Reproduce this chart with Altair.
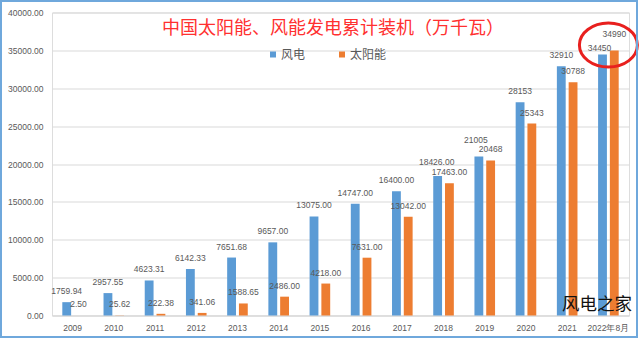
import altair as alt
import pandas as pd

years = ["2009", "2010", "2011", "2012", "2013", "2014", "2015", "2016",
         "2017", "2018", "2019", "2020", "2021", "2022年8月"]
wind = [1759.94, 2957.55, 4623.31, 6142.33, 7651.68, 9657.00, 13075.00, 14747.00,
        16400.00, 18426.00, 21005, 28153, 32910, 34450]
solar = [2.50, 25.62, 222.38, 341.06, 1588.65, 2486.00, 4218.00, 7631.00,
         13042.00, 17463.00, 20468, 25343, 30788, 34990]
wind_labels = ["1759.94", "2957.55", "4623.31", "6142.33", "7651.68", "9657.00", "13075.00",
               "14747.00", "16400.00", "18426.00", "21005", "28153", "32910", "34450"]
solar_labels = ["2.50", "25.62", "222.38", "341.06", "1588.65", "2486.00", "4218.00",
                "7631.00", "13042.00", "17463.00", "20468", "25343", "30788", "34990"]
series = ["风电", "太阳能"]
colors = ["#5B9BD5", "#ED7D31"]
y_ticks = [0, 5000, 10000, 15000, 20000, 25000, 30000, 35000, 40000]
title_text = "中国太阳能、风能发电累计装机（万千瓦）"
watermark = "风电之家"

rows = []
for i, y in enumerate(years):
    rows.append({"year": y, "series": series[0], "value": wind[i], "label": wind_labels[i]})
    rows.append({"year": y, "series": series[1], "value": solar[i], "label": solar_labels[i]})
df = pd.DataFrame(rows)

W, H = 577, 303
CJK = "Noto Sans CJK SC"
NUM = "Liberation Sans"
GRAY = "#595959"

xs = alt.Scale(domain=years, paddingInner=0.5, paddingOuter=0.25)
xo = alt.Scale(domain=series, paddingInner=0.25, paddingOuter=0)
ys = alt.Scale(domain=[0, 40000], nice=False)

x_axis = alt.Axis(labelAngle=0, ticks=False, labelPadding=8, labelFont=NUM,
                  labelFontSize=8.5, labelColor=GRAY, domainColor="#D9D9D9", grid=False)
y_axis = alt.Axis(values=y_ticks, format=".2f", ticks=False, domain=False, labelPadding=9,
                  labelOverlap=False, labelFont=NUM, labelFontSize=8.5, labelColor=GRAY,
                  gridColor="#D9D9D9", gridWidth=1)

base = alt.Chart(df)

bars = base.mark_bar().encode(
    x=alt.X("year:N", scale=xs, sort=years, title=None, axis=x_axis),
    xOffset=alt.XOffset("series:N", scale=xo, sort=series),
    y=alt.Y("value:Q", scale=ys, title=None, axis=y_axis),
    color=alt.Color("series:N", scale=alt.Scale(domain=series, range=colors), sort=series,
                    title=None,
                    legend=alt.Legend(orient="none", legendX=215, legendY=36, direction="horizontal",
                                      symbolType="square", symbolSize=36, symbolStrokeWidth=0,
                                      labelFont=CJK, labelFontSize=12, labelColor=GRAY,
                                      labelOffset=2, columnPadding=30, padding=0)),
)


def label_layer(flt, dy, dx):
    return base.transform_filter(flt).mark_text(
        baseline="middle", align="center", dy=dy, dx=dx, font=NUM, fontSize=8.5, color=GRAY
    ).encode(
        x=alt.X("year:N", scale=xs, sort=years, title=None, axis=x_axis),
        xOffset=alt.XOffset("series:N", scale=xo, sort=series),
        y=alt.Y("value:Q", scale=ys, title=None, axis=y_axis),
        text="label:N",
    )


is_wind = alt.datum.series == series[0]
is_solar = alt.datum.series == series[1]
is_last = alt.datum.year == years[-1]
is_1819_wind = ((alt.datum.year == "2018") | (alt.datum.year == "2019")) & is_wind

labels = label_layer(~is_last & ~is_1819_wind, -11, 0)
lab_2018 = label_layer((alt.datum.year == "2018") & is_wind, -14, -1)
lab_2019 = label_layer((alt.datum.year == "2019") & is_wind, -16, -3)
last_wind = label_layer(is_last & is_wind, -7, -3)
last_solar = label_layer(is_last & is_solar, -16, 0)

ellipse_path = ("M 1 0 C 1 0.42 0.552 0.76 0 0.76 C -0.552 0.76 -1 0.42 -1 0 "
                "C -1 -0.42 -0.552 -0.76 0 -0.76 C 0.552 -0.76 1 -0.42 1 0 Z")
ellipse = alt.Chart(pd.DataFrame({"year": [years[-1]], "value": [35700]})).mark_point(
    shape=ellipse_path, size=3364, filled=False, stroke="#E8201E", strokeWidth=3, opacity=1
).encode(
    x=alt.X("year:N", scale=xs, sort=years, title=None, axis=x_axis),
    y=alt.Y("value:Q", scale=ys, title=None, axis=y_axis),
)

title = alt.Chart(pd.DataFrame({"t": [title_text]})).mark_text(
    font=CJK, fontSize=18, color="#FF3030", align="center", baseline="middle"
).encode(x=alt.value(281), y=alt.value(16), text="t:N")

wm = alt.Chart(pd.DataFrame({"t": [watermark]})).mark_text(
    font=CJK, fontSize=17.5, color="#111111", align="center", baseline="middle"
).encode(x=alt.value(545), y=alt.value(292), text="t:N")

frame = alt.Chart(pd.DataFrame({"a": [0]})).mark_rect(
    fill=None, stroke="#6FA8DC", strokeWidth=2
).encode(x=alt.value(-51), x2=alt.value(585), y=alt.value(-11.5), y2=alt.value(324.5))

chart = alt.layer(bars, labels, lab_2018, lab_2019, last_wind, last_solar,
                  ellipse, title, wm, frame).properties(
    width=W, height=H,
    autosize=alt.AutoSizeParams(type="none"),
    padding={"left": 52, "top": 12.5, "right": 12, "bottom": 23.5},
).configure_view(stroke=None).configure(background="white")

chart.save("out.html", embed_options={"renderer": "svg", "actions": False})
